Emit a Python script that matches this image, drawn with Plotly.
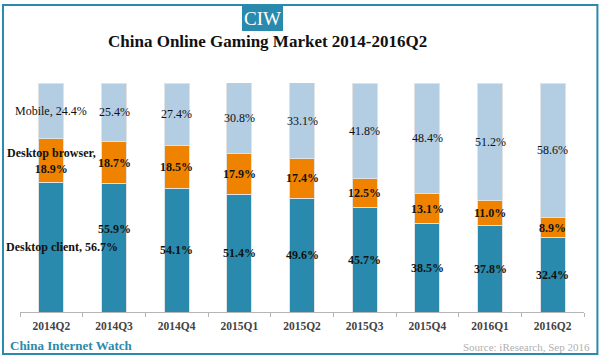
import plotly.graph_objects as go

quarters = ["2014Q2", "2014Q3", "2014Q4", "2015Q1", "2015Q2", "2015Q3", "2015Q4", "2016Q1", "2016Q2"]
desktop_client = [56.7, 55.9, 54.1, 51.4, 49.6, 45.7, 38.5, 37.8, 32.4]
desktop_browser = [18.9, 18.7, 18.5, 17.9, 17.4, 12.5, 13.1, 11.0, 8.9]
mobile = [24.4, 25.4, 27.4, 30.8, 33.1, 41.8, 48.4, 51.2, 58.6]

TEAL = "#2a8aad"
ORANGE = "#ef8300"
LIGHT = "#b3cde3"
SERIF = "Liberation Serif"

W, H = 600, 359
L, R, T, B = 20, 16.4, 83, 47
PW = W - L - R
PH = H - T - B


def px(x, y):
    return (x - L) / PW, (H - B - y) / PH


fig = go.Figure()
for name, vals, col in [("Desktop client", desktop_client, TEAL),
                        ("Desktop browser", desktop_browser, ORANGE),
                        ("Mobile", mobile, LIGHT)]:
    fig.add_trace(go.Bar(x=quarters, y=vals, name=name, width=0.4,
                         marker=dict(color=col, line=dict(color="#e2e2e2", width=1))))

ann = []
for i, q in enumerate(quarters):
    c, b, m = desktop_client[i], desktop_browser[i], mobile[i]
    if i == 0:
        t_c = f"<b>Desktop client, {c}%</b>"
        t_b = f"<b>Desktop browser,<br>{b}%</b>"
        t_m = f"Mobile, {m}%"
    else:
        t_c = f"<b>{c}%</b>"
        t_b = f"<b>{b}%</b>"
        t_m = f"{m}%"
    ann.append(dict(x=q, y=c / 2, text=t_c, showarrow=False,
                    xshift=11 if i == 0 else 0, yshift=19 if i == 1 else 0,
                    font=dict(family=SERIF, size=12, color="#111")))
    ann.append(dict(x=q, y=c + b / 2, text=t_b, showarrow=False,
                    font=dict(family=SERIF, size=12, color="#111")))
    ann.append(dict(x=q, y=c + b + m / 2, text=t_m, showarrow=False,
                    font=dict(family=SERIF, size=12, color="#111")))

# header / footer texts
cx, cy = px(262.5, 18)
ann.append(dict(xref="paper", yref="paper", x=cx, y=cy, xanchor="center", yanchor="middle",
                text="CIW", showarrow=False,
                bgcolor=TEAL, width=37, height=22, borderpad=2, borderwidth=0,
                font=dict(family=SERIF, size=19, color="white")))
tx, ty = px(267.5, 42)
ann.append(dict(xref="paper", yref="paper", x=tx, y=ty, xanchor="center", yanchor="middle",
                text="<b>China Online Gaming Market 2014-2016Q2</b>", showarrow=False,
                font=dict(family=SERIF, size=17, color="#111")))
fx, fy = px(8, 345)
ann.append(dict(xref="paper", yref="paper", x=fx, y=fy, xanchor="left", yanchor="middle",
                text="<b>China Internet Watch</b>", showarrow=False,
                font=dict(family=SERIF, size=13, color=TEAL)))
sx, sy = px(592, 347)
ann.append(dict(xref="paper", yref="paper", x=sx, y=sy, xanchor="right", yanchor="middle",
                text="Source: iResearch, Sep 2016", showarrow=False,
                font=dict(family=SERIF, size=11, color="#b0b0b0")))

shapes = []
x0, y0 = px(3, 5)
x1, y1 = px(597, 354)
shapes.append(dict(type="rect", xref="paper", yref="paper", x0=x0, y0=y0, x1=x1, y1=y1,
                   line=dict(color=TEAL, width=2), layer="below"))

fig.update_layout(
    width=W, height=H,
    margin=dict(l=L, r=R, t=T, b=B),
    barmode="stack",
    showlegend=False,
    plot_bgcolor="white", paper_bgcolor="white",
    annotations=ann, shapes=shapes,
    xaxis=dict(tickmode="array", tickvals=quarters, ticktext=[f"<b>{q}</b>" for q in quarters],
               tickfont=dict(family=SERIF, size=11.5, color="#444"),
               showline=True, linecolor="#b5b5b5", ticks="outside", tickson="boundaries",
               ticklen=4, tickcolor="#b5b5b5", showgrid=False, range=[-0.5, 8.5],
               ticklabelstandoff=3),
    yaxis=dict(range=[0, 100], visible=False, showgrid=False),
)

fig.write_html("out.html", config={"displayModeBar": False},
               post_script="document.body.style.margin='0';")
